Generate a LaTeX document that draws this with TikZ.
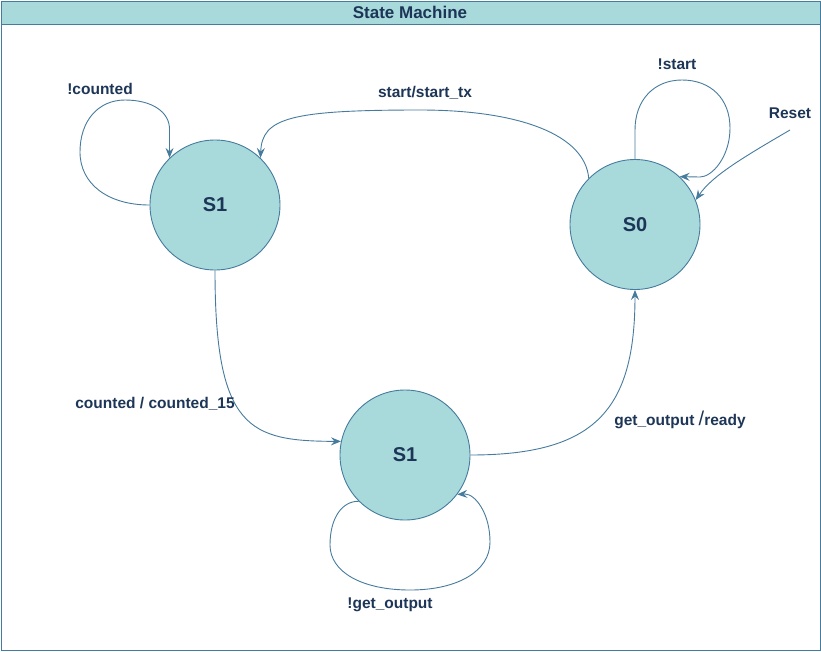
\documentclass[tikz,border=0pt]{standalone}
\usepackage{fontspec}
\setmainfont{Liberation Sans}
\usepackage{tikz}
\usetikzlibrary{arrows.meta}
\definecolor{smFill}{HTML}{A8DADC}
\definecolor{smLine}{HTML}{457B9D}
\definecolor{smText}{HTML}{1D3557}
\tikzset{
  statenode/.style = {circle, draw=smLine, fill=smFill, line width=0.9pt,
                      minimum size=130pt, inner sep=0pt, text=smText,
                      font=\fontsize{20}{24}\selectfont\bfseries},
  edgeln/.style    = {smLine, line width=0.9pt,
                      -{Stealth[length=10pt,width=8pt,inset=3.5pt]}},
  lbltext/.style   = {text=smText, inner sep=1pt,
                      font=\fontsize{15.5}{18}\selectfont\bfseries}
}

\begin{document}
\begin{tikzpicture}[x=1pt,y=-1pt]
  \useasboundingbox (0,0) rectangle (821,651);
  % --- frame and title bar ------------------------------------------------
  \draw[smLine,line width=0.9pt] (1,1) rectangle (820,650);
  \draw[smLine,line width=0.9pt,fill=smFill] (1,1) rectangle (820,24);
  \node[lbltext,font=\fontsize{17}{20}\selectfont\bfseries] (title) at (410,12.5) {State Machine};
  % --- the three states -----------------------------------------------------
  \node[statenode] (s1a) at (215,205) {S1};
  \node[statenode] (s0)  at (635,224.5) {S0};
  \node[statenode] (s1b) at (405,455) {S1};
  % reset enters from the upper right
  \coordinate (rst) at (790,130);
  % --- transitions ----------------------------------------------------------
  % self loop on the upper S1 (corners at (80,205), (80,100), (170,100))
  \draw[edgeln] (s1a.180) .. controls (108,205) and (80,184) .. (80,152)
        .. controls (80,121) and (98,100) .. (125,100)
        .. controls (152,100) and (170,112) .. (s1a.134 |- 0,130) -- (s1a.134);
  % S0 back to S1
  \draw[edgeln] (s0.135) .. controls (585,135) and (520,110) .. (420,110)
        .. controls (290,110) and (262,118) .. (s1a.46);
  % self loop on S0
  \draw[edgeln] (s0.90) -- (s0.90 |- 0,130) .. controls (635,100) and (654,80) .. (682,80)
        .. controls (711,80) and (730,99) .. (730,128)
        .. controls (730,157) and (712,177) .. (700,177) -- (s0.47);
  \draw[edgeln] (rst) .. controls (742,158) and (712,176) .. (s0.22);
  % upper S1 down to the lower S1
  \draw[edgeln] (s1a.270) .. controls (215,430) and (250,441) .. (s1b.168);
  % lower S1 up to S0
  \draw[edgeln] (s1b.0) .. controls (595,455) and (635,410) .. (s0.270);
  % self loop on the lower S1
  \draw[edgeln] (s1b.225) .. controls (342,501) and (330,518) .. (330,545)
        .. controls (330,572) and (362,590) .. (410,590)
        .. controls (458,590) and (490,571) .. (490,542)
        .. controls (490,513) and (475,494) .. (465,494) -- (s1b.323);
  % --- labels ---------------------------------------------------------------
  \node[lbltext] (lcnt)   at (100,89)  {!counted};
  \node[lbltext] (lstx)   at (425,93)  {start/start\_tx};
  \node[lbltext] (lstart) at (677,64)  {!start};
  \node[lbltext] (lrst)   at (790,113) {Reset};
  \node[lbltext] (lcnt15) at (155,404) {counted / counted\_15};
  \node[lbltext] (lready) at (680,420)
        {get\_output {\fontsize{20}{20}\selectfont\mdseries /}ready};
  \node[lbltext] (lget)   at (390,605) {!get\_output};
\end{tikzpicture}
\end{document}
